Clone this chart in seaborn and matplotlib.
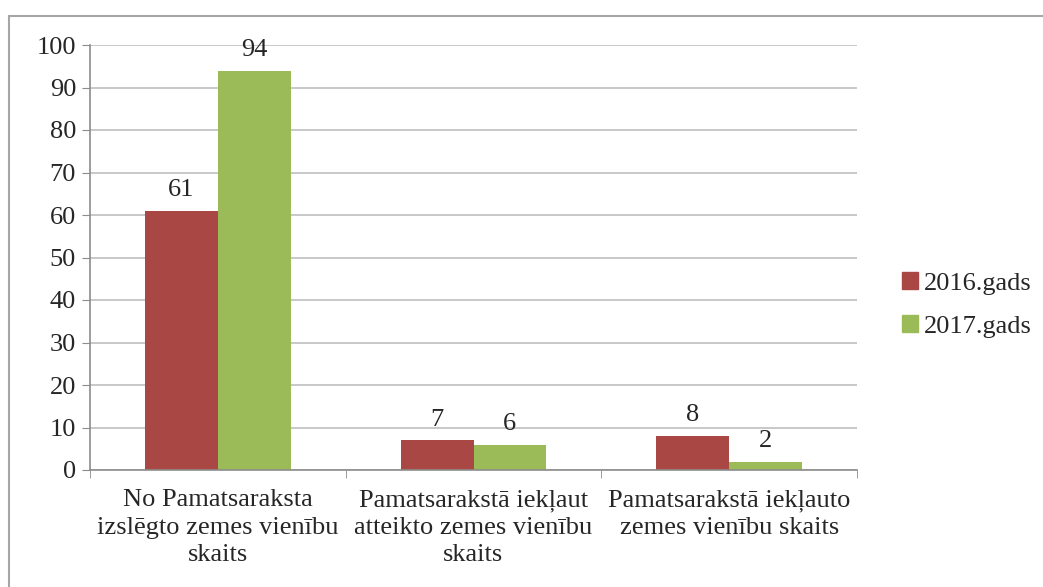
import seaborn as sns
import matplotlib.pyplot as plt
import pandas as pd
from matplotlib.patches import Rectangle

# dati
categories = ["No Pamatsaraksta\nizslēgto zemes vienību\nskaits",
              "Pamatsarakstā iekļaut\natteikto zemes vienību\nskaits",
              "Pamatsarakstā iekļauto\nzemes vienību skaits"]
years = ["2016.gads", "2017.gads"]
vals_2016 = [61, 7, 8]
vals_2017 = [94, 6, 2]
colors = ["#A94744", "#9BBB59"]

df = pd.DataFrame({
    "cat": categories * 2,
    "year": [years[0]] * 3 + [years[1]] * 3,
    "val": vals_2016 + vals_2017,
})

sns.set_style("white")
plt.rcParams['font.family'] = ['Liberation Serif', 'DejaVu Serif']
fs = 19

fig = plt.figure(figsize=(10.43, 5.87), dpi=100)
ax = fig.add_axes([90/1043, 117/587, 767/1043, 425/587])

sns.barplot(data=df, x="cat", y="val", hue="year", palette=colors,
            width=0.57, saturation=1, ax=ax, edgecolor="none")

for c in ax.containers:
    ax.bar_label(c, padding=7, fontsize=fs)

ax.set_ylim(0, 100)
ax.set_xlim(-0.5, 2.5)
ax.set_yticks(range(0, 101, 10))
ax.yaxis.grid(True, color="#bfbfbf", linewidth=1.2)
ax.set_axisbelow(True)
ax.set_xlabel("")
ax.set_ylabel("")

for s in ["top", "right"]:
    ax.spines[s].set_visible(False)
for s in ["left", "bottom"]:
    ax.spines[s].set_color("#8c8c8c")
    ax.spines[s].set_linewidth(1.2)

ax.tick_params(axis="y", left=True, length=6, color="#8c8c8c", labelsize=fs, pad=4)
ax.set_xticks(range(len(categories)), categories, linespacing=1.3)
ax.tick_params(axis="x", which="major", length=0, labelsize=fs, pad=14)
ax.set_xticks([-0.5, 0.5, 1.5, 2.5], minor=True)
ax.tick_params(axis="x", which="minor", bottom=True, length=6, color="#8c8c8c")

ax.get_legend().remove()
handles = [Rectangle((0, 0), 1, 1, color=col) for col in colors]
fig.legend(handles, years, loc="center left", bbox_to_anchor=(878/1043, 1 - 305/587),
           frameon=False, fontsize=fs, handlelength=0.6, handleheight=0.6,
           handletextpad=0.25, labelspacing=0.75)

# ramis
fig.add_artist(Rectangle((9/1043, -0.05), 1.1, 1 - 16/587 + 0.05, fill=False,
                         edgecolor="#a6a6a6", linewidth=1.5, transform=fig.transFigure))

fig.savefig("out.png", dpi=100)
